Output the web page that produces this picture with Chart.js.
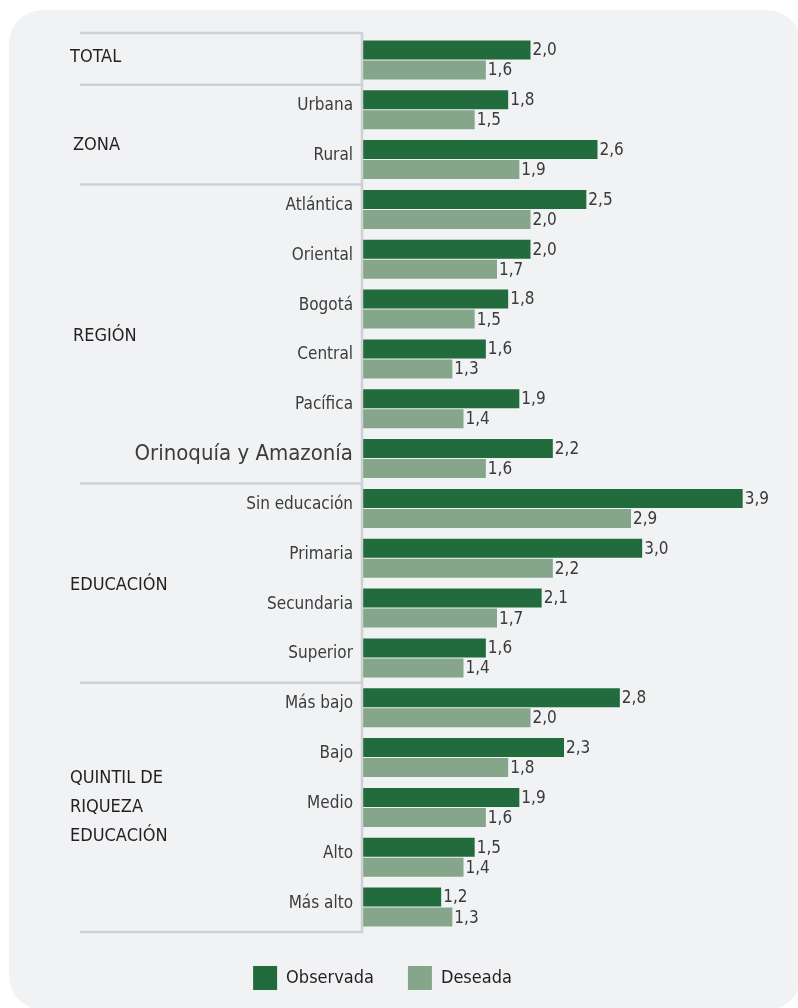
<!DOCTYPE html>
<html>
<head>
<meta charset="utf-8">
<script src="https://cdn.jsdelivr.net/npm/chart.js@4/dist/chart.umd.min.js"></script>
<style>
  html, body { margin: 0; padding: 0; background: #ffffff; width: 798px; height: 1008px; overflow: hidden; }
  #card { position: absolute; left: 9px; top: 10px; width: 792px; height: 1000px; background: #f1f2f4; border-radius: 34px; }
  #wrap { position: absolute; left: 0; top: 0; width: 798px; height: 1008px; }
</style>
</head>
<body>
<div id="card"></div>
<div id="wrap"><canvas id="c"></canvas></div>
<script>
const categories = ['', 'Urbana', 'Rural', 'Atlántica', 'Oriental', 'Bogotá', 'Central', 'Pacífica', 'Orinoquía y Amazonía', 'Sin educación', 'Primaria', 'Secundaria', 'Superior', 'Más bajo', 'Bajo', 'Medio', 'Alto', 'Más alto'];
const observada = [2.0, 1.8, 2.6, 2.5, 2.0, 1.8, 1.6, 1.9, 2.2, 3.9, 3.0, 2.1, 1.6, 2.8, 2.3, 1.9, 1.5, 1.2];
const deseada   = [1.6, 1.5, 1.9, 2.0, 1.7, 1.5, 1.3, 1.4, 1.6, 2.9, 2.2, 1.7, 1.4, 2.0, 1.8, 1.6, 1.4, 1.3];
const groupNames = [['TOTAL'], ['ZONA'], ['REGIÓN'], ['EDUCACIÓN'], ['QUINTIL DE', 'RIQUEZA', 'EDUCACIÓN']];
const groupStarts = [0, 1, 3, 9, 13];
const seriesNames = ['Observada', 'Deseada'];

const FONT = "'Liberation Sans Narrow', 'DejaVu Sans Condensed', 'Roboto', sans-serif";
const DARK = '#216b3c';
const LIGHT = '#85a68a';
const LINE = '#cfd0d4';

const groupShift = [-3, 11, 2, 2, 0];

const decorPlugin = {
  id: 'decor',
  afterDraw(chart) {
    const ctx = chart.ctx;
    const y = chart.scales.y;
    const area = chart.chartArea;
    const n = categories.length;
    const step = y.getPixelForTick(1) - y.getPixelForTick(0);
    const lineLeft = 80;
    const axisX = area.left - 1;
    ctx.save();
    ctx.strokeStyle = LINE;
    ctx.lineWidth = 2.5;
    const seps = [];
    seps.push(area.top - 2);
    for (let g = 1; g < groupStarts.length; g++) {
      seps.push(y.getPixelForTick(groupStarts[g]) - step / 2);
    }
    seps.push(area.bottom);
    seps.forEach(py => {
      ctx.beginPath();
      ctx.moveTo(lineLeft, py);
      ctx.lineTo(axisX, py);
      ctx.stroke();
    });
    ctx.beginPath();
    ctx.moveTo(axisX, seps[0] - 1);
    ctx.lineTo(axisX, area.bottom + 1);
    ctx.stroke();

    ctx.fillStyle = '#231f20';
    ctx.font = '18px ' + FONT;
    ctx.textAlign = 'left';
    ctx.textBaseline = 'middle';
    for (let g = 0; g < groupStarts.length; g++) {
      const s = groupStarts[g];
      const e = (g + 1 < groupStarts.length ? groupStarts[g + 1] : n) - 1;
      const mid = (y.getPixelForTick(s) + y.getPixelForTick(e)) / 2;
      const lines = groupNames[g];
      const lh = 29;
      const x = (g === 1 || g === 2) ? 73 : 70;
      lines.forEach((t, i) => {
        ctx.fillText(t, x, mid + groupShift[g] + (i - (lines.length - 1) / 2) * lh);
      });
    }

    ctx.fillStyle = '#3a3a3a';
    ctx.font = '17px ' + FONT;
    chart.data.datasets.forEach((ds, di) => {
      const meta = chart.getDatasetMeta(di);
      meta.data.forEach((bar, i) => {
        const v = ds.data[i];
        ctx.fillText(v.toFixed(1).replace('.', ','), bar.x + 2, bar.y + 1);
      });
    });
    ctx.restore();
  }
};

new Chart(document.getElementById('c'), {
  type: 'bar',
  data: {
    labels: categories,
    datasets: [
      { label: seriesNames[0], data: observada, backgroundColor: DARK, categoryPercentage: 0.804, barPercentage: 0.95 },
      { label: seriesNames[1], data: deseada, backgroundColor: LIGHT, categoryPercentage: 0.804, barPercentage: 0.95 }
    ]
  },
  options: {
    indexAxis: 'y',
    responsive: true,
    maintainAspectRatio: false,
    animation: false,
    layout: { padding: { top: 35, right: 33, left: 0, bottom: 8 } },
    scales: {
      x: { display: false, min: 0.5, max: 4.1 },
      y: {
        grid: { display: false, drawTicks: false },
        border: { display: false },
        ticks: {
          padding: 10,
          labelOffset: -4,
          color: '#3c3c3c',
          font: (c) => ({ family: FONT, size: c.index === 8 ? 22 : 17 })
        },
        afterFit: (scale) => { scale.width = 363; }
      }
    },
    plugins: {
      legend: {
        position: 'bottom',
        labels: {
          boxWidth: 24,
          boxHeight: 24,
          padding: 34,
          color: '#231f20',
          font: { family: FONT, size: 18 }
        }
      },
      tooltip: { enabled: false }
    }
  },
  plugins: [decorPlugin]
});
</script>
</body>
</html>
